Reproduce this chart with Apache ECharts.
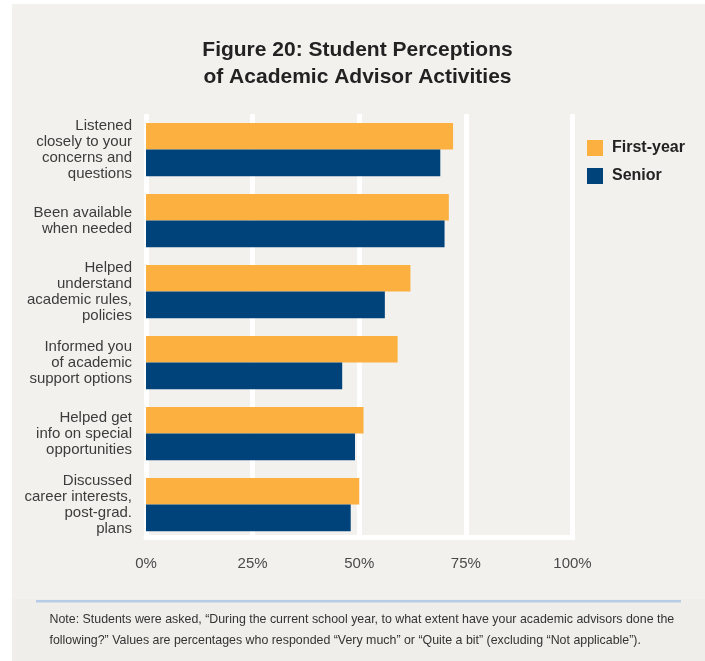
<!DOCTYPE html>
<html>
<head>
<meta charset="utf-8">
<title>Figure 20: Student Perceptions of Academic Advisor Activities</title>
<script src="https://cdn.jsdelivr.net/npm/echarts@6/dist/echarts.min.js"></script>
<style>
  html, body { margin: 0; padding: 0; background: #ffffff; }
  #chart { width: 705px; height: 661px; }
</style>
</head>
<body>
<div id="chart"></div>
<script>
// Survey items (top to bottom)
const categories = [
  'Listened\nclosely to your\nconcerns and\nquestions',
  'Been available\nwhen needed',
  'Helped\nunderstand\nacademic rules,\npolicies',
  'Informed you\nof academic\nsupport options',
  'Helped get\ninfo on special\nopportunities',
  'Discussed\ncareer interests,\npost-grad.\nplans'
];

// Percent responding "Very much" or "Quite a bit"
const firstYear = [72, 71, 62, 59, 51, 50];
const senior = [69, 70, 56, 46, 49, 48];

const seriesNames = ['First-year', 'Senior'];
const xTicks = [0, 25, 50, 75, 100];

const titleText = 'Figure 20: Student Perceptions\nof Academic Advisor Activities';
const noteLines = [
  'Note: Students were asked, \u201CDuring the current school year, to what extent have your academic advisors done the',
  'following?\u201D Values are percentages who responded \u201CVery much\u201D or \u201CQuite a bit\u201D (excluding \u201CNot applicable\u201D).'
];

const FONT = '"Liberation Sans", Arial, Helvetica, sans-serif';
const ORANGE = '#FBB040';
const NAVY = '#00427A';

const chart = echarts.init(document.getElementById('chart'), null, { renderer: 'canvas' });

chart.setOption({
  backgroundColor: '#ffffff',
  animation: false,
  textStyle: { fontFamily: FONT },
  title: {
    text: titleText,
    left: 357.5,
    top: 37,
    padding: 0,
    textAlign: 'center',
    textStyle: {
      fontFamily: FONT,
      fontSize: 21,
      fontWeight: 'bold',
      lineHeight: 27,
      color: '#222222'
    }
  },
  legend: {
    orient: 'vertical',
    left: 587,
    top: 140,
    padding: 0,
    itemWidth: 16,
    itemHeight: 16,
    itemGap: 12,
    icon: 'rect',
    data: seriesNames,
    textStyle: {
      fontFamily: FONT,
      fontSize: 16,
      fontWeight: 'bold',
      color: '#222222',
      padding: [0, 0, 0, 4]
    }
  },
  grid: {
    left: 146,
    top: 114,
    width: 426.5,
    height: 426,
    containLabel: false
  },
  xAxis: {
    type: 'value',
    min: xTicks[0],
    max: xTicks[xTicks.length - 1],
    interval: xTicks[1] - xTicks[0],
    offset: -3,
    axisLine: { show: true, lineStyle: { color: '#ffffff', width: 5 } },
    axisTick: { show: false },
    splitLine: { show: true, lineStyle: { color: '#ffffff', width: 5 } },
    axisLabel: {
      formatter: '{value}%',
      fontFamily: FONT,
      fontSize: 15,
      color: '#4a4a4a',
      margin: 19
    }
  },
  yAxis: {
    type: 'category',
    inverse: true,
    data: categories,
    axisLine: { show: false },
    axisTick: { show: false },
    splitLine: { show: false },
    axisLabel: {
      fontFamily: FONT,
      fontSize: 15,
      lineHeight: 16,
      color: '#3c3c3c',
      margin: 14,
      align: 'right'
    }
  },
  series: [
    {
      name: seriesNames[0],
      type: 'bar',
      data: firstYear,
      itemStyle: { color: ORANGE },
      barGap: '0%',
      barCategoryGap: '25%'
    },
    {
      name: seriesNames[1],
      type: 'bar',
      data: senior,
      itemStyle: { color: NAVY },
      barGap: '0%',
      barCategoryGap: '25%'
    }
  ],
  graphic: [
    {
      type: 'rect',
      z: -10,
      silent: true,
      shape: { x: 12, y: 4, width: 693, height: 595 },
      style: { fill: '#F2F1EE' }
    },
    {
      type: 'rect',
      z: -10,
      silent: true,
      shape: { x: 12, y: 599, width: 693, height: 62 },
      style: { fill: '#EFEEEB' }
    },
    {
      type: 'rect',
      z: -5,
      silent: true,
      shape: { x: 36, y: 600, width: 645, height: 2.5 },
      style: { fill: '#B7CCE6' }
    },
    {
      type: 'text',
      z: -5,
      silent: true,
      style: {
        x: 49.5,
        y: 619.5,
        text: noteLines[0],
        fontFamily: FONT,
        fontSize: 12.4,
        fill: '#333333',
        verticalAlign: 'middle'
      }
    },
    {
      type: 'text',
      z: -5,
      silent: true,
      style: {
        x: 49.5,
        y: 640.5,
        text: noteLines[1],
        fontFamily: FONT,
        fontSize: 12.4,
        fill: '#333333',
        verticalAlign: 'middle'
      }
    }
  ]
});
</script>
</body>
</html>
